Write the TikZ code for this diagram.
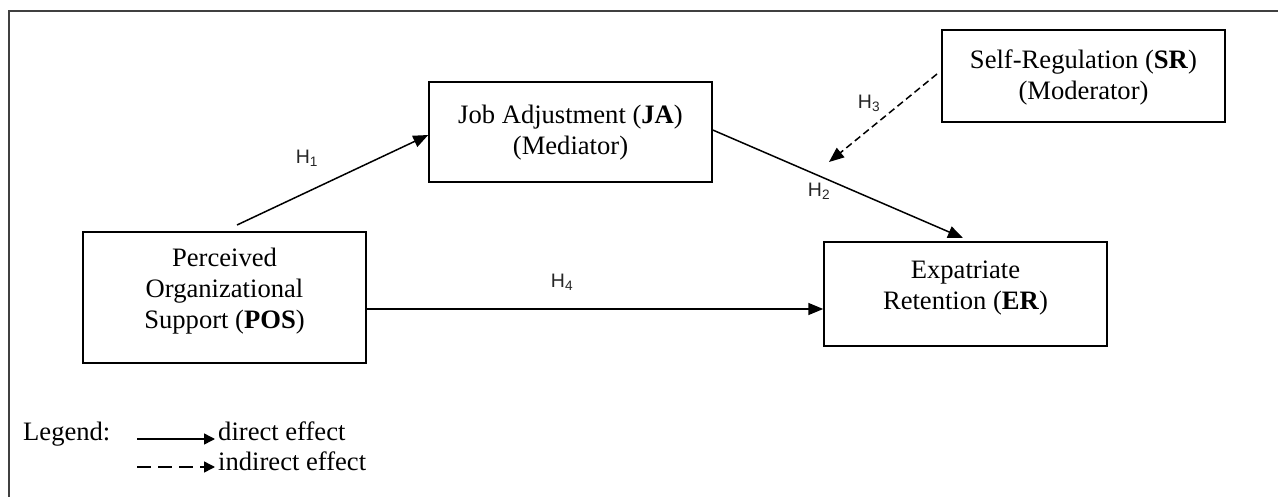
\documentclass[tikz,border=0pt]{standalone}
\usepackage{fontspec}
\setmainfont{Liberation Serif}
\newfontfamily\hfont{Liberation Sans}
\usetikzlibrary{arrows.meta}
\tikzset{
  boxnode/.style={draw=black, line width=1.5pt, rectangle, inner sep=0pt},
  boxtext/.style={align=center, inner sep=0pt, font=\fontsize{26.6}{31}\selectfont},
  hlabel/.style={inner sep=0pt, font=\hfont\fontsize{19.5}{22}\selectfont, text=black!85},
  legtext/.style={inner sep=0pt, anchor=base west, font=\fontsize{26.6}{31}\selectfont},
  effect/.style={line width=1.5pt, -{Triangle[length=15pt,width=12pt]}},
  indeffect/.style={effect, dash pattern=on 7pt off 4pt},
  legeffect/.style={line width=1.5pt, -{Triangle[length=11pt,width=11pt]}},
}
\begin{document}
\begin{tikzpicture}[x=1pt,y=-1pt]
\useasboundingbox (0,0) rectangle (1278,497);
\clip (0,0) rectangle (1278,497);
\fill[white] (0,0) rectangle (1278,497);
% outer frame
\draw[line width=1.6pt, draw=black!75] (9,11) rectangle (1300,520);
% boxes
\node[boxnode, minimum width=283pt, minimum height=100pt] (JA) at (570.5,132) {};
\node[boxnode, minimum width=283pt, minimum height=92pt] (SR) at (1083.5,76) {};
\node[boxnode, minimum width=283pt, minimum height=131pt] (POS) at (224.5,297.5) {};
\node[boxnode, minimum width=283pt, minimum height=104pt] (ER) at (965.5,294) {};
% texts
\node[boxtext] (JAt) at (570.5,133) {Job Adjustment (\textbf{JA})\\(Mediator)};
\node[boxtext] (SRt) at (1083.5,77.5) {Self-Regulation (\textbf{SR})\\(Moderator)};
\node[boxtext] (POSt) at (224.5,291) {Perceived\\Organizational\\Support (\textbf{POS})};
\node[boxtext] (ERt) at (965.5,288) {Expatriate\\Retention (\textbf{ER})};
% connectors
\coordinate (h1s) at (237,225);
\coordinate (h2e) at (963,238);
\coordinate (h3s) at (937,74);
\coordinate (h3e) at (829,162);
\draw[effect] (h1s) -- ([yshift=-3pt]JA.west);
\draw[effect] ([yshift=2pt]JA.east) -- (h2e);
\draw[indeffect] (h3s) -- (h3e);
\draw[effect] ([yshift=-11.5pt]POS.east) -- ([yshift=-11.5pt]POS.east -| ER.west);
% hypothesis labels
\node[hlabel] (H1) at (307,158) {H\textsubscript{1}};
\node[hlabel] (H2) at (819,191) {H\textsubscript{2}};
\node[hlabel] (H3) at (869,103) {H\textsubscript{3}};
\node[hlabel] (H4) at (562,282) {H\textsubscript{4}};
% legend
\node[legtext] (leg) at (23,440) {Legend:};
\coordinate (l1s) at (137,439);
\coordinate (l1e) at (215,439);
\coordinate (l2s) at (137,467);
\coordinate (l2e) at (215,467);
\draw[legeffect] (l1s) -- (l1e);
\draw[legeffect, dash pattern=on 14pt off 7pt] (l2s) -- (l2e);
\node[legtext] (d1) at (218,440) {direct effect};
\node[legtext] (d2) at (218,470) {indirect effect};
\end{tikzpicture}
\end{document}
